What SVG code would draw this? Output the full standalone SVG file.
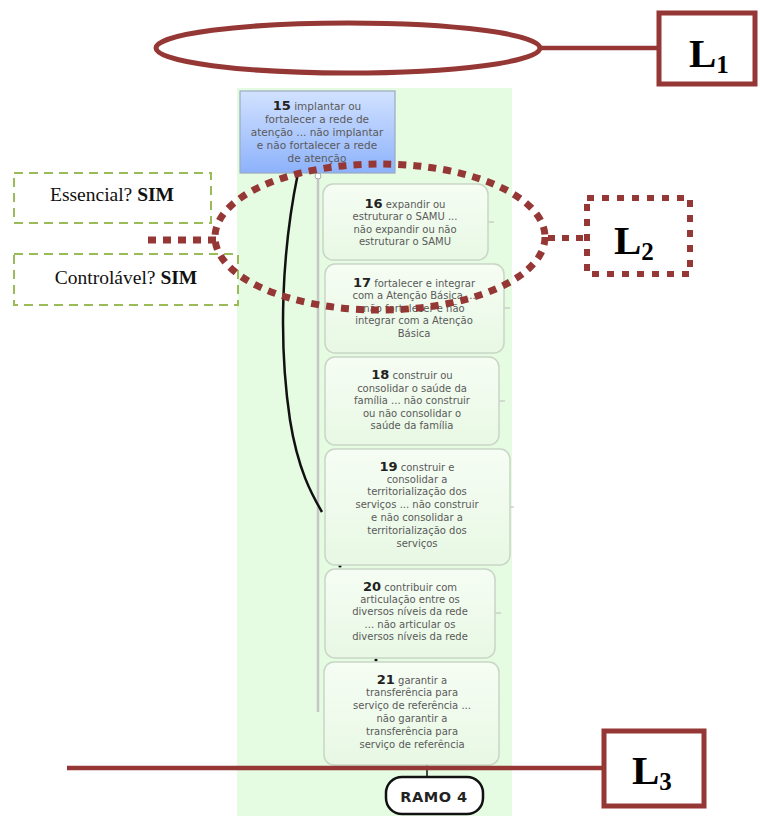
<svg xmlns="http://www.w3.org/2000/svg" width="760" height="816" viewBox="0 0 760 816">
  <style>
    .node rect { fill: url(#nodeFill); stroke: #c9d6c6; stroke-width: 1.5; }
    .node text, .root text { font-family: "DejaVu Sans", Verdana, sans-serif; font-size: 10px; fill: #5a5a5a; text-anchor: middle; }
    .root text { font-size: 10.5px; }
    .num { font-size: 13px; font-weight: bold; fill: #222; }
    .red { stroke: #953735; fill: none; }
    .tag { font-family: "Liberation Serif", "Times New Roman", serif; font-weight: bold; font-size: 41px; fill: #000; }
    .sub { font-size: 25px; }
    .q { font-family: "Liberation Serif", "Times New Roman", serif; font-size: 19.5px; fill: #111; text-anchor: middle; }
    .qbox { fill: #fff; stroke: #9bbb59; stroke-width: 2; stroke-dasharray: 9 6; }
  </style>
  <defs>
    <linearGradient id="nodeFill" x1="0" y1="0" x2="0" y2="1">
      <stop offset="0" stop-color="#f6fdf4"/>
      <stop offset="1" stop-color="#e8f8e4"/>
    </linearGradient>
    <linearGradient id="rootFill" x1="0" y1="0" x2="0" y2="1">
      <stop offset="0" stop-color="#d2e2ff"/>
      <stop offset="1" stop-color="#8db2fb"/>
    </linearGradient>
  </defs>

  <rect width="760" height="816" fill="#fff"/>
  <!-- map panel -->
  <rect x="237" y="88" width="275" height="728" fill="#e5fbe2"/>

  <g id="connectors">
    <line x1="318" y1="173" x2="318" y2="712" stroke="#c6c6c6" stroke-width="2.5"/>
    <circle cx="318" cy="176" r="3" fill="#fff" stroke="#aaa"/>
    <path d="M298 173 C 282 250, 278 340, 290 420 C 298 470, 312 495, 322 512" fill="none" stroke="#111" stroke-width="2.5"/>
    <line x1="488" y1="222" x2="494" y2="222" stroke="#bbb"/>
    <line x1="504" y1="308" x2="510" y2="308" stroke="#bbb"/>
    <line x1="499" y1="401" x2="505" y2="401" stroke="#bbb"/>
    <line x1="510" y1="507" x2="514" y2="507" stroke="#bbb"/>
    <line x1="495" y1="613" x2="501" y2="613" stroke="#bbb"/>
    <circle cx="340" cy="566" r="1.6" fill="#111"/>
    <circle cx="376" cy="660" r="1.6" fill="#111"/>
    <line x1="427" y1="765" x2="427" y2="776" stroke="#111" stroke-width="1.5"/>
  </g>

  <g id="n15" class="root">
    <rect x="240" y="91" width="155" height="82" fill="url(#rootFill)" stroke="#9aaac0" stroke-width="1.2"/>
    <text x="317" y="110"><tspan class="num">15</tspan> implantar ou</text>
    <text x="317" y="123">fortalecer a rede de</text>
    <text x="317" y="136">atenção ... não implantar</text>
    <text x="317" y="149">e não fortalecer a rede</text>
    <text x="317" y="162">de atenção</text>
  </g>

  <g id="n16" class="node">
    <rect x="323" y="184" width="165" height="76" rx="10"/>
    <text x="405" y="208"><tspan class="num">16</tspan> expandir ou</text>
    <text x="405" y="220">estruturar o SAMU ...</text>
    <text x="405" y="233">não expandir ou não</text>
    <text x="405" y="245">estruturar o SAMU</text>
  </g>

  <g id="n17" class="node">
    <rect x="325" y="264" width="179" height="89" rx="10"/>
    <text x="414" y="287"><tspan class="num">17</tspan> fortalecer e integrar</text>
    <text x="414" y="299">com a Atenção Básica ...</text>
    <text x="414" y="312">não fortalecer e não</text>
    <text x="414" y="324">integrar com a Atenção</text>
    <text x="414" y="337">Básica</text>
  </g>

  <g id="n18" class="node">
    <rect x="325" y="357" width="174" height="88" rx="10"/>
    <text x="412" y="379"><tspan class="num">18</tspan> construir ou</text>
    <text x="412" y="392">consolidar o saúde da</text>
    <text x="412" y="404">família ... não construir</text>
    <text x="412" y="417">ou não consolidar o</text>
    <text x="412" y="429">saúde da família</text>
  </g>

  <g id="n19" class="node">
    <rect x="325" y="449" width="185" height="116" rx="10"/>
    <text x="417" y="471"><tspan class="num">19</tspan> construir e</text>
    <text x="417" y="483">consolidar a</text>
    <text x="417" y="495">territorialização dos</text>
    <text x="417" y="508">serviços ... não construir</text>
    <text x="417" y="521">e não consolidar a</text>
    <text x="417" y="534">territorialização dos</text>
    <text x="417" y="547">serviços</text>
  </g>

  <g id="n20" class="node">
    <rect x="325" y="569" width="170" height="89" rx="10"/>
    <text x="410" y="591"><tspan class="num">20</tspan> contribuir com</text>
    <text x="410" y="603">articulação entre os</text>
    <text x="410" y="615">diversos níveis da rede</text>
    <text x="410" y="628">... não articular os</text>
    <text x="410" y="640">diversos níveis da rede</text>
  </g>

  <g id="n21" class="node">
    <rect x="324" y="662" width="175" height="103" rx="10"/>
    <text x="412" y="684"><tspan class="num">21</tspan> garantir a</text>
    <text x="412" y="696">transferência para</text>
    <text x="412" y="709">serviço de referência ...</text>
    <text x="412" y="722">não garantir a</text>
    <text x="412" y="735">transferência para</text>
    <text x="412" y="748">serviço de referência</text>
  </g>

  <g id="ramo4">
    <rect x="386" y="777" width="97" height="37" rx="16" fill="#fff" stroke="#111" stroke-width="2.5"/>
    <text x="434" y="802" font-family="DejaVu Sans, Verdana, sans-serif" font-size="14.5" font-weight="bold" fill="#222" text-anchor="middle" letter-spacing="0.5">RAMO 4</text>
  </g>

  <!-- question boxes -->
  <g id="q-essencial">
    <rect class="qbox" x="14" y="173" width="197" height="50"/>
    <text class="q" x="112" y="201">Essencial? <tspan font-weight="bold">SIM</tspan></text>
  </g>
  <g id="q-controlavel">
    <rect class="qbox" x="14" y="254" width="224" height="51"/>
    <text class="q" x="126" y="284">Controlável? <tspan font-weight="bold">SIM</tspan></text>
  </g>

  <!-- level L1 -->
  <g id="L1">
    <ellipse class="red" cx="348" cy="48" rx="192" ry="25" stroke-width="5"/>
    <line class="red" x1="540" y1="48" x2="659" y2="48" stroke-width="4.5"/>
    <rect class="red" x="659" y="13" width="96" height="71" fill="#fff" stroke-width="5"/>
    <text class="tag" x="689" y="67">L<tspan class="sub" dy="6">1</tspan></text>
  </g>

  <!-- level L2 -->
  <g id="L2">
    <ellipse class="red" cx="380" cy="237" rx="165" ry="73" stroke-width="7" stroke-dasharray="8 7"/>
    <line class="red" x1="148" y1="240" x2="216" y2="240" stroke-width="7" stroke-dasharray="8 7"/>
    <line class="red" x1="548" y1="238" x2="587" y2="238" stroke-width="6" stroke-dasharray="7 7"/>
    <rect class="red" x="587" y="198" width="103" height="76" stroke-width="6" stroke-dasharray="7 8"/>
    <text class="tag" x="614" y="254">L<tspan class="sub" dy="6">2</tspan></text>
  </g>

  <!-- level L3 -->
  <g id="L3">
    <line class="red" x1="67" y1="768" x2="604" y2="768" stroke-width="4.5"/>
    <rect class="red" x="604" y="731" width="100" height="75" fill="#fff" stroke-width="5"/>
    <text class="tag" x="632" y="784">L<tspan class="sub" dy="6">3</tspan></text>
  </g>
</svg>
